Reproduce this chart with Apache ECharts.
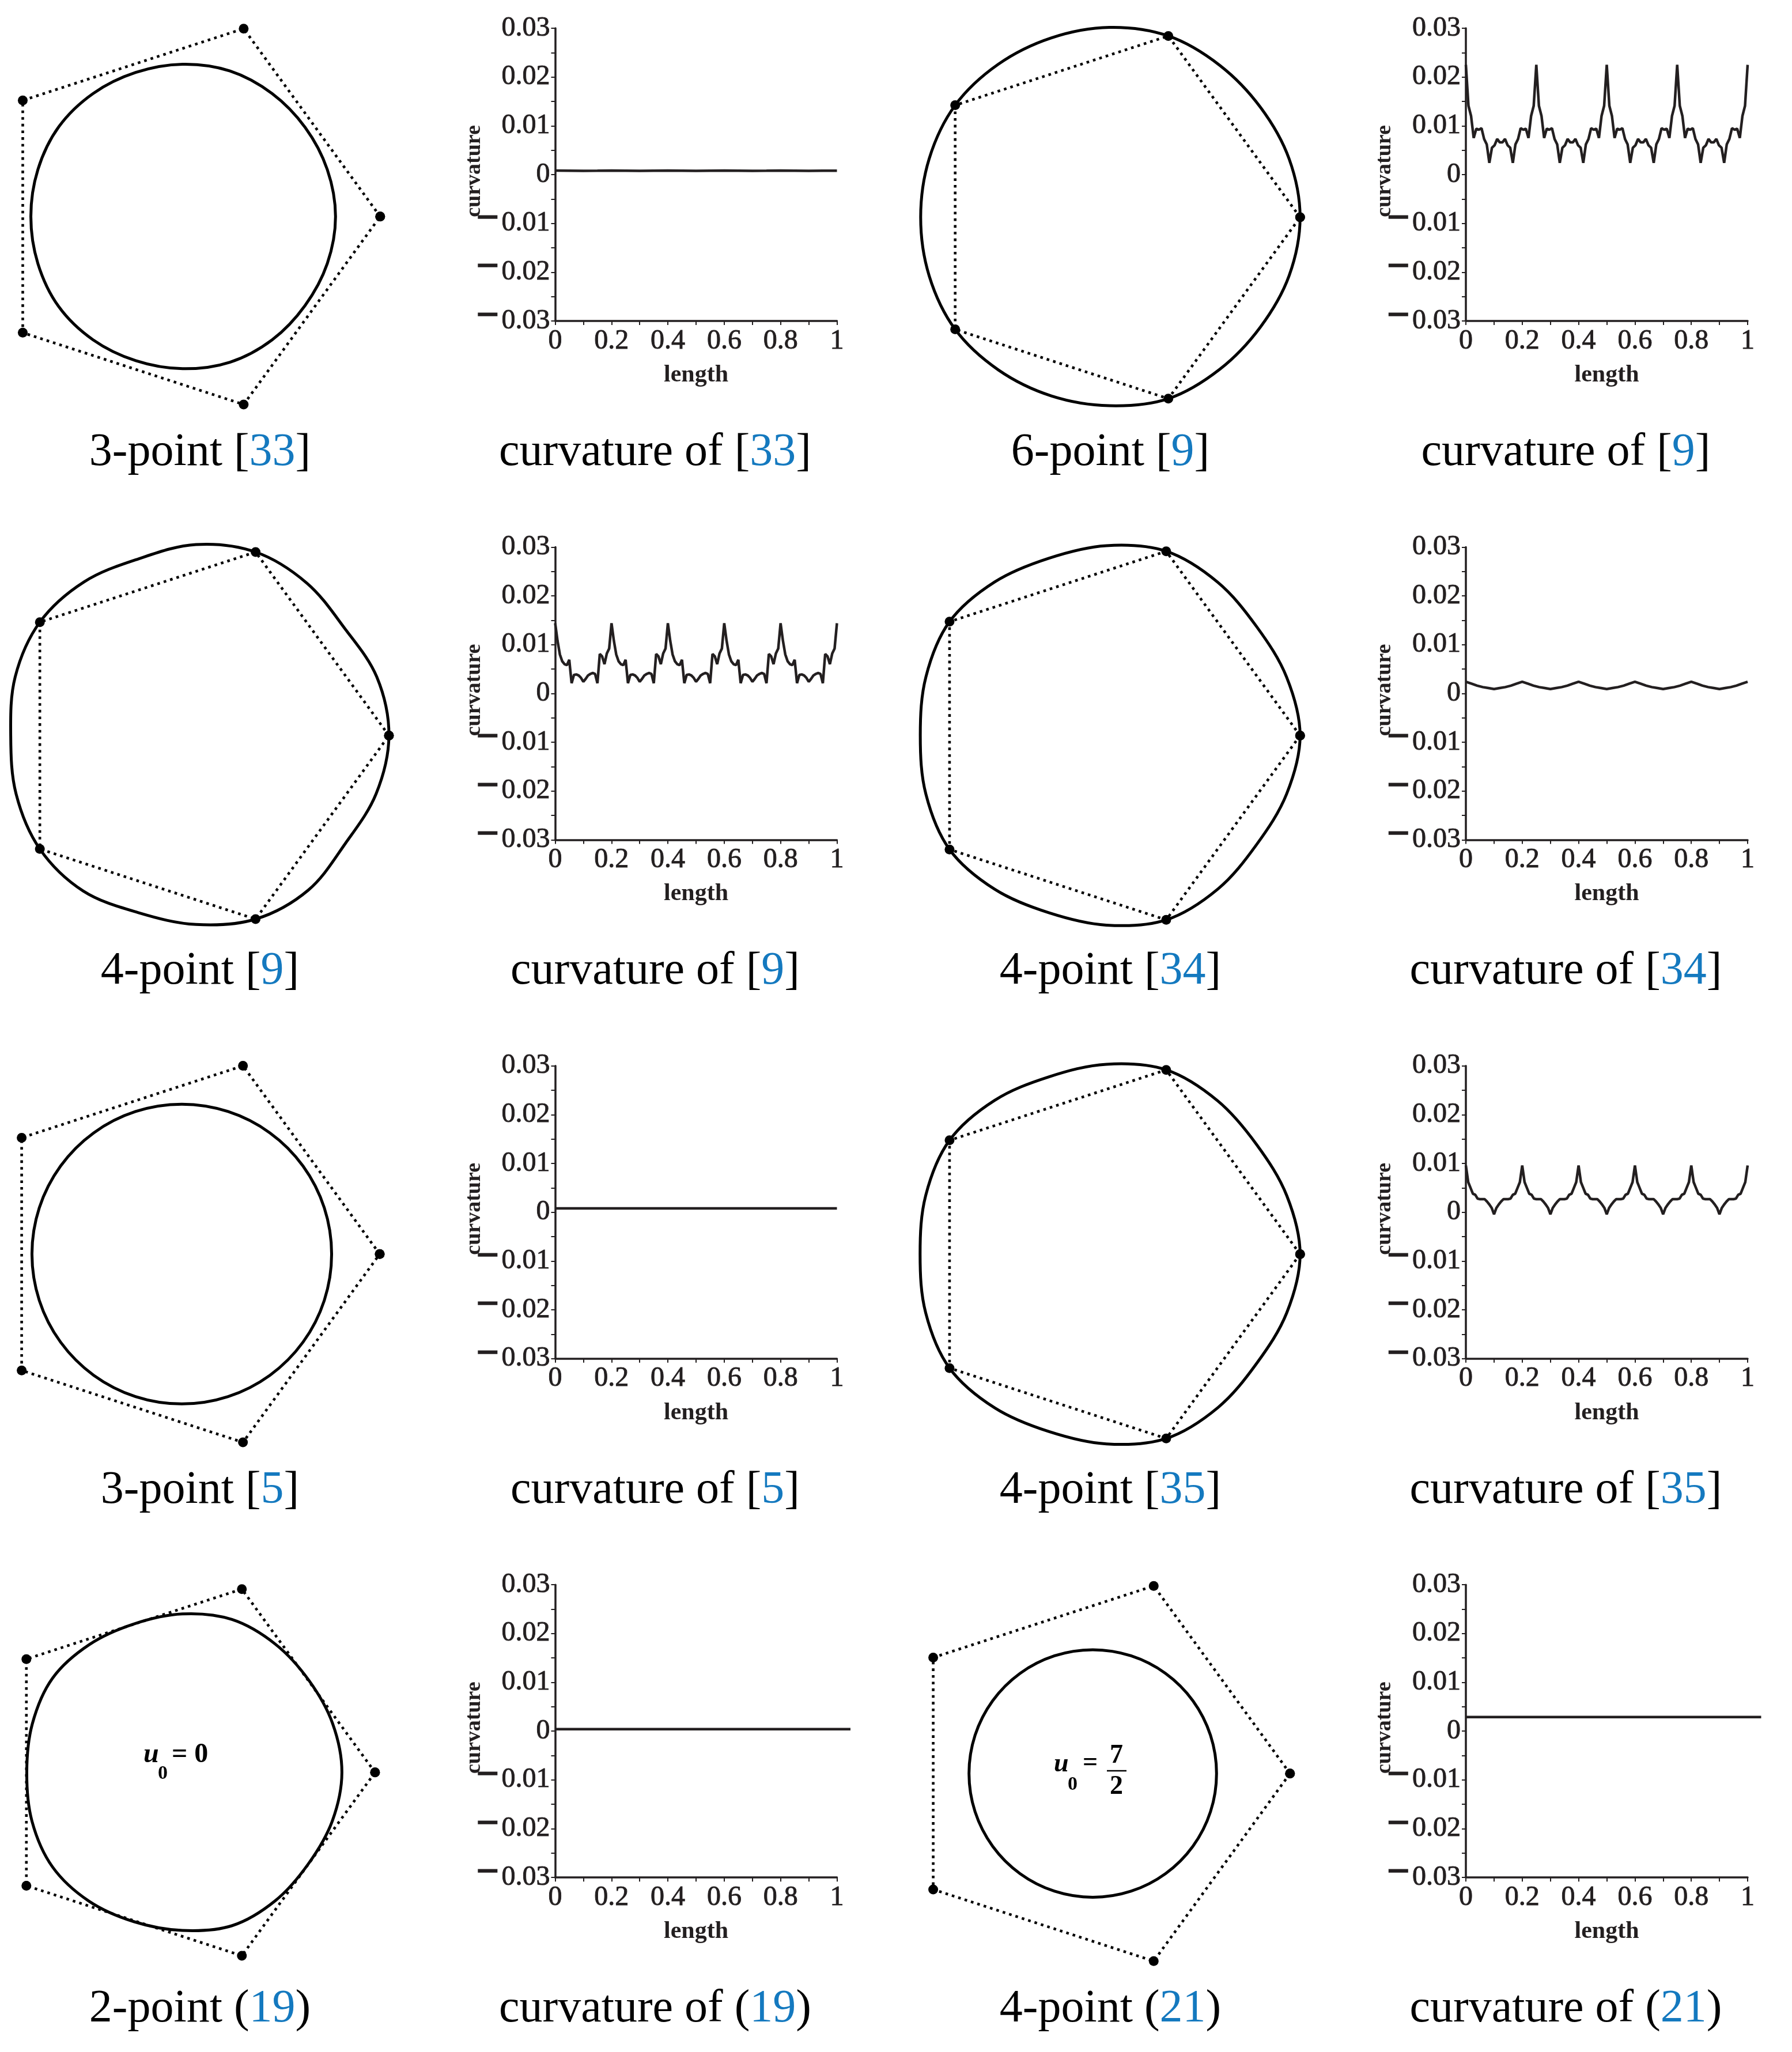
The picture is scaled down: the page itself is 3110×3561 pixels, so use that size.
<!DOCTYPE html>
<html>
<head>
<meta charset="utf-8">
<script src="https://cdn.jsdelivr.net/npm/echarts@6.0.0/dist/echarts.min.js"></script>
<style>
html,body{margin:0;padding:0;background:#ffffff;}
#chart{width:3110px;height:3561px;}
</style>
</head>
<body>
<div id="chart"></div>
<script>
// ================= DATA =================
// Captions: prefix, blue reference, suffix (row-major, 4 per row)
const captionPre  = ['3-point [', 'curvature of [', '6-point [', 'curvature of [',
                     '4-point [', 'curvature of [', '4-point [', 'curvature of [',
                     '3-point [', 'curvature of [', '4-point [', 'curvature of [',
                     '2-point (', 'curvature of (', '4-point (', 'curvature of ('];
const captionRef  = ['33', '33', '9', '9', '9', '9', '34', '34', '5', '5', '35', '35', '19', '19', '21', '21'];
const captionPost = [']', ']', ']', ']', ']', ']', ']', ']', ']', ']', ']', ']', ')', ')', ')', ')'];

// Control polygon (regular pentagon, unit circumradius)
const ctrlAngle  = [0, 72, 144, 216, 288];
const ctrlRadius = [1, 1, 1, 1, 1];

// Limit curves: radius (in control-polygon units) at these polar angles
const curveAngle = [0, 18, 36, 54, 72, 90, 108, 126, 144, 162, 180, 198, 216, 234, 252, 270, 288, 306, 324, 342];
const r33   = [0.774, 0.770, 0.767, 0.770, 0.775, 0.771, 0.767, 0.770, 0.774, 0.770, 0.768, 0.770, 0.775, 0.771, 0.767, 0.770, 0.775, 0.771, 0.766, 0.770];
const r6pt9 = [1.000, 0.991, 0.980, 0.985, 1.000, 0.996, 0.989, 0.992, 1.000, 0.994, 0.990, 0.994, 1.000, 0.990, 0.985, 0.988, 1.000, 0.985, 0.979, 0.991];
const r4pt9 = [1.000, 0.985, 0.950, 0.977, 1.000, 0.990, 0.963, 0.985, 1.000, 0.985, 0.960, 0.980, 1.000, 0.995, 0.965, 0.979, 1.000, 0.990, 0.955, 0.981];
const r34   = [1.000, 0.978, 0.958, 0.978, 1.000, 0.980, 0.962, 0.980, 1.000, 0.979, 0.960, 0.979, 1.000, 0.980, 0.961, 0.978, 1.000, 0.979, 0.958, 0.978];
const r5    = [0.757, 0.757, 0.757, 0.757, 0.757, 0.757, 0.757, 0.757, 0.757, 0.757, 0.757, 0.757, 0.757, 0.757, 0.757, 0.757, 0.757, 0.757, 0.757, 0.757];
const r35   = [1.000, 0.979, 0.960, 0.978, 1.000, 0.980, 0.962, 0.981, 1.000, 0.980, 0.961, 0.980, 1.000, 0.980, 0.962, 0.979, 1.000, 0.979, 0.959, 0.979];
const r19   = [0.828, 0.820, 0.812, 0.822, 0.834, 0.822, 0.810, 0.820, 0.832, 0.818, 0.807, 0.820, 0.833, 0.825, 0.814, 0.820, 0.836, 0.822, 0.808, 0.818];
const r21   = [0.6275, 0.6275, 0.6275, 0.6275, 0.6275, 0.6275, 0.6275, 0.6275, 0.6275, 0.6275, 0.6275, 0.6275, 0.6275, 0.6275, 0.6275, 0.6275, 0.6275, 0.6275, 0.6275, 0.6275];

// Curvature against normalised length (uniform samples over [0, 1] unless a length array is given)
const kappa33 = [0.00082, 0.00080, 0.00078, 0.00080, 0.00083, 0.00080, 0.00077, 0.00080, 0.00082, 0.00080, 0.00078,
                 0.00080, 0.00082, 0.00080, 0.00077, 0.00079, 0.00082, 0.00080, 0.00078, 0.00080, 0.00080];
const kappa6pt9 = [
  0.0225, 0.0141, 0.0120, 0.0075, 0.0094, 0.0092, 0.0095, 0.0073, 0.0062, 0.0024, 0.0055, 0.0060, 0.0073, 0.0066, 0.0066, 0.0073, 0.0060, 0.0055, 0.0024, 0.0062, 0.0073, 0.0095, 0.0092, 0.0094, 0.0075, 0.0120, 0.0141,
  0.0225, 0.0141, 0.0120, 0.0075, 0.0094, 0.0092, 0.0095, 0.0073, 0.0062, 0.0024, 0.0055, 0.0060, 0.0073, 0.0066, 0.0066, 0.0073, 0.0060, 0.0055, 0.0024, 0.0062, 0.0073, 0.0095, 0.0092, 0.0094, 0.0075, 0.0120, 0.0141,
  0.0225, 0.0141, 0.0120, 0.0075, 0.0094, 0.0092, 0.0095, 0.0073, 0.0062, 0.0024, 0.0055, 0.0060, 0.0073, 0.0066, 0.0066, 0.0073, 0.0060, 0.0055, 0.0024, 0.0062, 0.0073, 0.0095, 0.0092, 0.0094, 0.0075, 0.0120, 0.0141,
  0.0225, 0.0141, 0.0120, 0.0075, 0.0094, 0.0092, 0.0095, 0.0073, 0.0062, 0.0024, 0.0055, 0.0060, 0.0073, 0.0066, 0.0066, 0.0073, 0.0060, 0.0055, 0.0024, 0.0062, 0.0073, 0.0095, 0.0092, 0.0094, 0.0075, 0.0120, 0.0141,
  0.0225];
const kappa4pt9 = [
  0.0144, 0.0108, 0.0080, 0.0066, 0.0060, 0.0058, 0.0069, 0.0021, 0.0038, 0.0039, 0.0037, 0.0032, 0.0024, 0.0030, 0.0037, 0.0040, 0.0042, 0.0040, 0.0021, 0.0081, 0.0076, 0.0060, 0.0082, 0.0092,
  0.0144, 0.0108, 0.0080, 0.0066, 0.0060, 0.0058, 0.0069, 0.0021, 0.0038, 0.0039, 0.0037, 0.0032, 0.0024, 0.0030, 0.0037, 0.0040, 0.0042, 0.0040, 0.0021, 0.0081, 0.0076, 0.0060, 0.0082, 0.0092,
  0.0144, 0.0108, 0.0080, 0.0066, 0.0060, 0.0058, 0.0069, 0.0021, 0.0038, 0.0039, 0.0037, 0.0032, 0.0024, 0.0030, 0.0037, 0.0040, 0.0042, 0.0040, 0.0021, 0.0081, 0.0076, 0.0060, 0.0082, 0.0092,
  0.0144, 0.0108, 0.0080, 0.0066, 0.0060, 0.0058, 0.0069, 0.0021, 0.0038, 0.0039, 0.0037, 0.0032, 0.0024, 0.0030, 0.0037, 0.0040, 0.0042, 0.0040, 0.0021, 0.0081, 0.0076, 0.0060, 0.0082, 0.0092,
  0.0144, 0.0108, 0.0080, 0.0066, 0.0060, 0.0058, 0.0069, 0.0021, 0.0038, 0.0039, 0.0037, 0.0032, 0.0024, 0.0030, 0.0037, 0.0040, 0.0042, 0.0040, 0.0021, 0.0081, 0.0076, 0.0060, 0.0082, 0.0092,
  0.0144];
const kappa34 = [
  0.0024, 0.0020, 0.0016, 0.0013, 0.0011, 0.0009, 0.0011, 0.0013, 0.0016, 0.0020,
  0.0024, 0.0020, 0.0016, 0.0013, 0.0011, 0.0009, 0.0011, 0.0013, 0.0016, 0.0020,
  0.0024, 0.0020, 0.0016, 0.0013, 0.0011, 0.0009, 0.0011, 0.0013, 0.0016, 0.0020,
  0.0024, 0.0020, 0.0016, 0.0013, 0.0011, 0.0009, 0.0011, 0.0013, 0.0016, 0.0020,
  0.0024, 0.0020, 0.0016, 0.0013, 0.0011, 0.0009, 0.0011, 0.0013, 0.0016, 0.0020,
  0.0024];
const kappa35 = [
  0.0096, 0.0062, 0.0050, 0.0038, 0.0036, 0.0028, 0.0027, 0.0027, 0.0027, 0.0022, 0.0016, 0.0009, -0.0004, 0.0009, 0.0016, 0.0022, 0.0027, 0.0027, 0.0027, 0.0028, 0.0036, 0.0038, 0.0050, 0.0062,
  0.0096, 0.0062, 0.0050, 0.0038, 0.0036, 0.0028, 0.0027, 0.0027, 0.0027, 0.0022, 0.0016, 0.0009, -0.0004, 0.0009, 0.0016, 0.0022, 0.0027, 0.0027, 0.0027, 0.0028, 0.0036, 0.0038, 0.0050, 0.0062,
  0.0096, 0.0062, 0.0050, 0.0038, 0.0036, 0.0028, 0.0027, 0.0027, 0.0027, 0.0022, 0.0016, 0.0009, -0.0004, 0.0009, 0.0016, 0.0022, 0.0027, 0.0027, 0.0027, 0.0028, 0.0036, 0.0038, 0.0050, 0.0062,
  0.0096, 0.0062, 0.0050, 0.0038, 0.0036, 0.0028, 0.0027, 0.0027, 0.0027, 0.0022, 0.0016, 0.0009, -0.0004, 0.0009, 0.0016, 0.0022, 0.0027, 0.0027, 0.0027, 0.0028, 0.0036, 0.0038, 0.0050, 0.0062,
  0.0096, 0.0062, 0.0050, 0.0038, 0.0036, 0.0028, 0.0027, 0.0027, 0.0027, 0.0022, 0.0016, 0.0009, -0.0004, 0.0009, 0.0016, 0.0022, 0.0027, 0.0027, 0.0027, 0.0028, 0.0036, 0.0038, 0.0050, 0.0062,
  0.0096];
const len5    = [0, 0.25, 0.5, 0.75, 1.0];
const kappa5  = [0.0008, 0.0008, 0.0008, 0.0008, 0.0008];
const len19   = [0, 0.5, 1.048];
const kappa19 = [0.0004, 0.0004, 0.0004];
const len21   = [0, 0.5, 1.048];
const kappa21 = [0.0029, 0.0029, 0.0029];

// Axis ticks and titles
const lengthTicks    = [0, 0.2, 0.4, 0.6, 0.8, 1];
const curvatureTicks = [-0.03, -0.02, -0.01, 0, 0.01, 0.02, 0.03];
const xTitle = 'length';
const yTitle = 'curvature';

// ================= LAYOUT / STYLE =================
const FONT = 'Liberation Serif';
const INK = '#231f20';
const BLUE = '#1479bf';
const ROW = 900.4;

const shapePanels = [
  { r: r33,   cx: 316.9,  cy: 375.8,  R: 342.9 },
  { r: r6pt9, cx: 1925.4, cy: 377.1,  R: 330.9 },
  { r: r4pt9, cx: 340.1,  cy: 1276.5, R: 334.9 },
  { r: r34,   cx: 1920.0, cy: 1276.5, R: 336.3 },
  { r: r5,    cx: 315.5,  cy: 2176.3, R: 343.5 },
  { r: r35,   cx: 1920.0, cy: 2176.5, R: 336.3 },
  { r: r19,   cx: 316.4,  cy: 3075.8, R: 334.5 },
  { r: r21,   cx: 1896.5, cy: 3077.7, R: 342.3 }
];

function uniform(y) { return y.map((v, i) => [i / (y.length - 1), v]); }
function paired(x, y) { return x.map((v, i) => [v, y[i]]); }

const plots = [
  { data: uniform(kappa33),   left: 963.5, row: 0 },
  { data: uniform(kappa6pt9), left: 2544,  row: 0 },
  { data: uniform(kappa4pt9), left: 963.5, row: 1 },
  { data: uniform(kappa34),   left: 2544,  row: 1 },
  { data: paired(len5, kappa5),   left: 963.5, row: 2 },
  { data: uniform(kappa35),   left: 2544,  row: 2 },
  { data: paired(len19, kappa19), left: 963.5, row: 3 },
  { data: paired(len21, kappa21), left: 2544,  row: 3 }
];
const PLOT_TOP = 49, PLOT_H = 508, PLOT_W = 489;

const RMAX = 1.2;
const option = {
  animation: false,
  backgroundColor: '#ffffff',
  textStyle: { fontFamily: FONT },
  polar: shapePanels.map(p => ({ center: [p.cx, p.cy], radius: p.R * RMAX })),
  angleAxis: shapePanels.map((p, i) => ({ polarIndex: i, type: 'value', min: 0, max: 360, startAngle: 0, clockwise: false, show: false })),
  radiusAxis: shapePanels.map((p, i) => ({ polarIndex: i, type: 'value', min: 0, max: RMAX, show: false })),
  grid: plots.map(p => ({ left: p.left, top: PLOT_TOP + ROW * p.row, width: PLOT_W, height: PLOT_H, containLabel: false, outerBoundsMode: 'none' })),
  xAxis: plots.map((p, i) => ({
    gridIndex: i, type: 'value', min: lengthTicks[0], max: lengthTicks[lengthTicks.length - 1], interval: 0.2,
    axisLine: { show: true, onZero: false, lineStyle: { color: INK, width: 3.5 } },
    axisTick: { show: true, length: 7, lineStyle: { color: INK, width: 2 } },
    minorTick: { show: true, splitNumber: 2, length: 7, lineStyle: { color: INK, width: 2 } },
    splitLine: { show: false },
    axisLabel: { color: INK, fontFamily: FONT, fontSize: 48, margin: 11, textBorderColor: INK, textBorderWidth: 0.9,
      formatter: v => { const k = lengthTicks.findIndex(t => Math.abs(t - v) < 1e-9); return k >= 0 ? String(lengthTicks[k]) : ''; } },
    name: xTitle, nameLocation: 'middle', nameGap: 73,
    nameTextStyle: { color: INK, fontFamily: FONT, fontWeight: 'bold', fontSize: 42 }
  })),
  yAxis: plots.map((p, i) => ({
    gridIndex: i, type: 'value', min: curvatureTicks[0], max: curvatureTicks[curvatureTicks.length - 1], interval: 0.01,
    axisLine: { show: true, onZero: false, lineStyle: { color: INK, width: 3.5 } },
    axisTick: { show: true, length: 7, lineStyle: { color: INK, width: 2 } },
    minorTick: { show: true, splitNumber: 2, length: 7, lineStyle: { color: INK, width: 2 } },
    splitLine: { show: false },
    axisLabel: { color: INK, fontFamily: FONT, fontSize: 48, margin: 9, textBorderColor: INK, textBorderWidth: 0.9,
      formatter: v => {
        const k = curvatureTicks.findIndex(t => Math.abs(t - v) < 1e-9);
        if (k < 0) return '';
        const t = curvatureTicks[k];
        if (t === 0) return '0';
        const s = Math.abs(t).toFixed(2);
        return t < 0 ? '{m|\u2212}' + s : s;
      },
      rich: { m: { color: INK, fontFamily: FONT, fontWeight: 'bold', fontSize: 70, padding: [0, 4, 12, 0], textBorderColor: INK, textBorderWidth: 1.5 } } }
  })),
  series: [],
  graphic: []
};

// Shape panels: limit curve (closed smooth polygon) + dotted control polygon with dots
shapePanels.forEach((p, i) => {
  const curveData = curveAngle.map((a, k) => [p.r[k], a]);
  option.series.push({
    type: 'custom', coordinateSystem: 'polar', polarIndex: i, silent: true, clip: false,
    data: curveData,
    renderItem: (params, api) => {
      if (params.dataIndex !== 0) return null;
      const pts = curveData.map(d => api.coord(d));
      return { type: 'polygon', shape: { points: pts, smooth: 0.34 },
               style: { fill: 'none', stroke: '#000', lineWidth: 5 } };
    }
  });
  const ctrlData = ctrlAngle.map((a, k) => [ctrlRadius[k], a]);
  ctrlData.push([ctrlRadius[0], ctrlAngle[0] + 360]);
  option.series.push({
    type: 'line', coordinateSystem: 'polar', polarIndex: i, silent: true, clip: false,
    data: ctrlData, smooth: false,
    symbol: 'circle', symbolSize: 17, showSymbol: true,
    itemStyle: { color: '#000' },
    lineStyle: { color: '#000', width: 4.6, type: [4.6, 7], cap: 'butt' }
  });
});

// Curvature plots (unclipped polylines through the cartesian axes)
plots.forEach((p, i) => {
  const pdata = p.data;
  option.series.push({
    type: 'custom', coordinateSystem: 'cartesian2d', xAxisIndex: i, yAxisIndex: i, silent: true, clip: false,
    data: pdata,
    renderItem: (params, api) => {
      if (params.dataIndex !== 0) return null;
      const pts = pdata.map(d => api.coord(d));
      return { type: 'polyline', shape: { points: pts },
               style: { fill: 'none', stroke: INK, lineWidth: 4.5, lineJoin: 'bevel' } };
    }
  });
  // rotated y-axis title
  option.graphic.push({
    type: 'text', x: p.left - 140.5, y: PLOT_TOP + ROW * p.row + 248, rotation: Math.PI / 2, silent: true,
    style: { text: yTitle, fill: INK, align: 'center', verticalAlign: 'middle',
             font: 'bold 38px "Liberation Serif"' }
  });
});

// Captions
const colCenter = [347, 1137, 1927, 2717.5];
for (let k = 0; k < captionRef.length; k++) {
  const row = Math.floor(k / 4), col = k % 4;
  option.graphic.push({
    type: 'text', x: colCenter[col], y: 786 + ROW * row, silent: true,
    style: {
      text: '{k|' + captionPre[k] + '}{b|' + captionRef[k] + '}{k|' + captionPost[k] + '}',
      align: 'center', verticalAlign: 'middle',
      rich: {
        k: { fontFamily: FONT, fontSize: 80, fill: '#000', color: '#000' },
        b: { fontFamily: FONT, fontSize: 80, fill: BLUE, color: BLUE }
      }
    }
  });
}

// u_0 annotations
function txt(x, y, s, font, align) {
  return { type: 'text', x: x, y: y, silent: true,
           style: { text: s, font: font, fill: '#000', align: align || 'left', verticalAlign: 'middle' } };
}
const fMain = 'bold 48px "Liberation Serif"';
const fIt = 'italic bold 48px "Liberation Serif"';
const fSub = 'bold 34px "Liberation Serif"';
option.graphic.push(txt(249, 3046, 'u', fIt));
option.graphic.push(txt(274, 3078, '0', fSub));
option.graphic.push(txt(298, 3046, '= 0', fMain));

option.graphic.push(txt(1829, 3062, 'u', 'italic bold 46px "Liberation Serif"'));
option.graphic.push(txt(1853, 3097, '0', fSub));
option.graphic.push(txt(1879, 3060, '=', 'bold 46px "Liberation Serif"'));
option.graphic.push(txt(1937.5, 3047, '7', 'bold 46px "Liberation Serif"', 'center'));
option.graphic.push(txt(1937.5, 3101, '2', 'bold 46px "Liberation Serif"', 'center'));
option.graphic.push({ type: 'line', silent: true, shape: { x1: 1921, y1: 3073, x2: 1955, y2: 3073 },
                      style: { stroke: '#000', lineWidth: 2.5 } });

const chart = echarts.init(document.getElementById('chart'), null, { renderer: 'canvas', width: 3110, height: 3561 });
chart.setOption(option);
</script>
</body>
</html>
